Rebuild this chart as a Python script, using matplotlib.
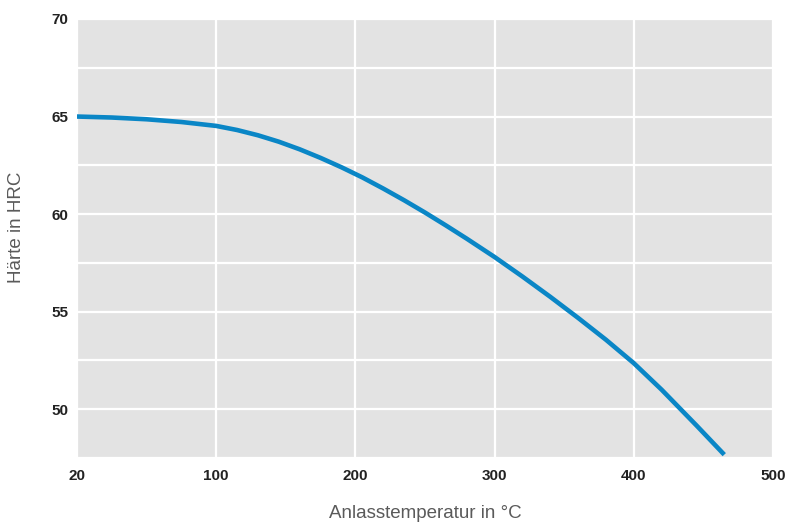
import numpy as np
import matplotlib
matplotlib.use("Agg")
import matplotlib.pyplot as plt

plt.rcParams["font.family"] = ["Liberation Sans", "DejaVu Sans"]

# Anlasstemperatur (°C) und Härte (HRC)
temperatur = [20, 40, 60, 80, 100, 115, 130, 145, 160, 175, 190, 205, 220, 235, 250,
              265, 280, 300, 320, 340, 360, 380, 400, 420, 445, 465]
haerte = [65.0, 64.95, 64.86, 64.72, 64.52, 64.31, 64.04, 63.71, 63.32, 62.88, 62.4, 61.88,
          61.31, 60.71, 60.08, 59.42, 58.74, 57.8, 56.8, 55.76, 54.68, 53.56, 52.36, 51.0,
          49.17, 47.67]

x_ticks = [20, 100, 200, 300, 400, 500]
y_ticks = [50, 55, 60, 65, 70]


# Achse: 20..100 wird wie 0..100 gestreckt, danach linear
def fwd(t):
    t = np.asarray(t, dtype=float)
    return np.where(t < 100, (t - 20) * 100 / 80, t)


def inv(p):
    p = np.asarray(p, dtype=float)
    return np.where(p < 100, p * 80 / 100 + 20, p)


fig = plt.figure(figsize=(7.92, 5.23), dpi=100)
ax = fig.add_axes([0.0972, 0.1243, 0.8788, 0.8394])
ax.set_facecolor("#e3e3e3")
ax.set_xscale("function", functions=(fwd, inv))

ax.plot(temperatur, haerte, color="#0a86c6", linewidth=3.3,
        solid_capstyle="butt", solid_joinstyle="round", zorder=3)

ax.set_xlim(20, 500)
ax.set_ylim(47.5, 70)
ax.set_xticks(x_ticks)
ax.set_xticklabels([str(t) for t in x_ticks])
ax.set_yticks(y_ticks)
ax.set_yticks(np.arange(47.5, 70, 5), minor=True)

ax.grid(True, which="major", color="white", linewidth=1.6, zorder=1)
ax.grid(True, which="minor", axis="y", color="white", linewidth=1.6, zorder=1)
ax.set_axisbelow(True)
for s in ax.spines.values():
    s.set_visible(False)

ax.tick_params(axis="both", which="both", length=0)
ax.tick_params(axis="x", pad=8)
ax.tick_params(axis="y", pad=6)
for lab in ax.get_xticklabels() + ax.get_yticklabels():
    lab.set_fontsize(11)
    lab.set_fontweight("bold")
    lab.set_color("#222222")

ax.set_xlabel("Anlasstemperatur in °C", fontsize=13.5, color="#5a5a5a", labelpad=16)
ax.set_ylabel("Härte in HRC", fontsize=13.5, color="#5a5a5a")
ax.yaxis.set_label_coords(-0.074, 0.525)

fig.savefig("out.png", dpi=100)
